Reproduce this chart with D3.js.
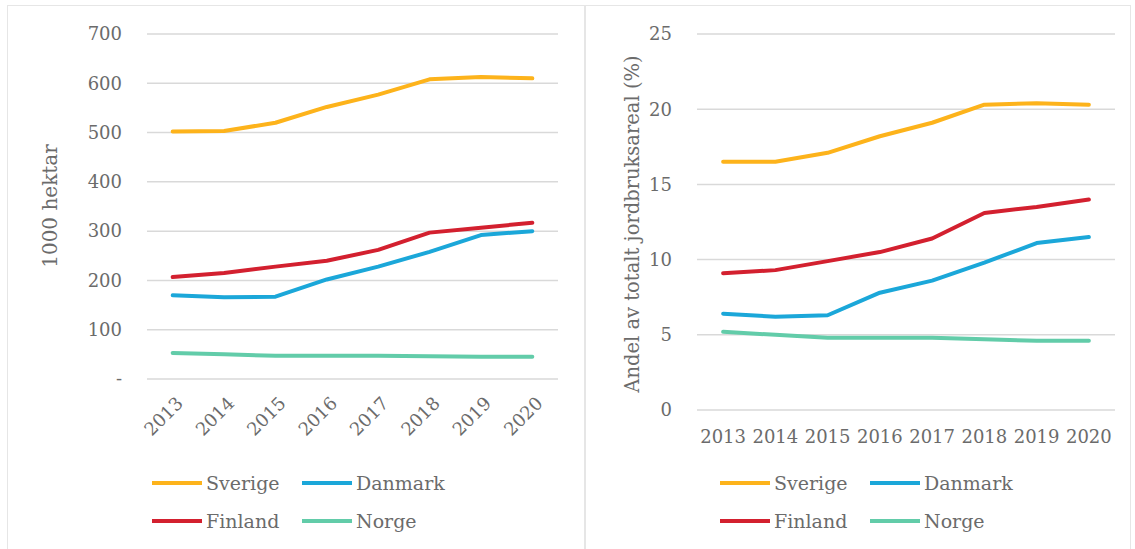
<!DOCTYPE html>
<html>
<head>
    <meta charset="utf-8">
    <script src="https://cdn.jsdelivr.net/npm/d3@7"></script>
    <style type="text/css">
        body { margin: 0; background: #ffffff; }
        svg text { font-family: "DejaVu Serif", Georgia, serif; fill: #6b6b6b; }
    </style>
</head>
<body>
<script type="text/javascript">
    // data
    var years = ["2013", "2014", "2015", "2016", "2017", "2018", "2019", "2020"];
    var countries = ["Sverige", "Danmark", "Finland", "Norge"];
    var colors = ["#fdb31b", "#1ba7d9", "#d3202f", "#62cca9"];

    // 1000 hektar
    var hektarSverige = [502, 503, 520, 552, 577, 608, 613, 610];
    var hektarDanmark = [170, 166, 167, 202, 228, 258, 292, 300];
    var hektarFinland = [207, 215, 228, 240, 262, 297, 307, 317];
    var hektarNorge   = [53, 50, 47, 47, 47, 46, 45, 45];
    var hektarTicks = [0, 100, 200, 300, 400, 500, 600, 700];

    // andel av totalt jordbruksareal (%)
    var andelSverige = [16.5, 16.5, 17.1, 18.2, 19.1, 20.3, 20.4, 20.3];
    var andelDanmark = [6.4, 6.2, 6.3, 7.8, 8.6, 9.8, 11.1, 11.5];
    var andelFinland = [9.1, 9.3, 9.9, 10.5, 11.4, 13.1, 13.5, 14.0];
    var andelNorge   = [5.2, 5.0, 4.8, 4.8, 4.8, 4.7, 4.6, 4.6];
    var andelTicks = [0, 5, 10, 15, 20, 25];

    var svg = d3.select("body").append("svg")
        .attr("width", 1135)
        .attr("height", 549);

    // panel frames
    svg.append("rect").attr("x", 7.5).attr("y", 5.5).attr("width", 577).attr("height", 560)
        .attr("fill", "none").attr("stroke", "#e6e6e6");
    svg.append("rect").attr("x", 585.5).attr("y", 5.5).attr("width", 545).attr("height", 560)
        .attr("fill", "none").attr("stroke", "#e6e6e6");

    function drawChart(opt) {
        var g = svg.append("g");
        var x = d3.scalePoint().domain(years).range([opt.x0, opt.x1]).padding(0.5);
        var y = d3.scaleLinear().domain([0, opt.max]).range([opt.y0, opt.y1]);

        // gridlines
        g.selectAll(".grid").data(opt.ticks).enter().append("line")
            .attr("x1", opt.x0).attr("x2", opt.x1)
            .attr("y1", function(d) { return y(d); })
            .attr("y2", function(d) { return y(d); })
            .attr("stroke", "#d9d9d9").attr("stroke-width", 1.5);

        // y tick labels
        g.selectAll(".ytick").data(opt.ticks).enter().append("text")
            .attr("x", opt.x0 - 25)
            .attr("y", function(d) { return y(d); })
            .attr("dy", "0.35em")
            .attr("text-anchor", "end")
            .style("font-size", "18px")
            .text(opt.tickFormat);

        // x tick labels
        if (opt.rotate) {
            g.selectAll(".xtick").data(years).enter().append("text")
                .attr("transform", function(d) {
                    return "translate(" + (x(d) + 7) + "," + (opt.y0 + 21) + ") rotate(-45)";
                })
                .attr("text-anchor", "end")
                .attr("dy", "0.35em")
                .style("font-size", "18px")
                .text(function(d) { return d; });
        } else {
            g.selectAll(".xtick").data(years).enter().append("text")
                .attr("x", function(d) { return x(d); })
                .attr("y", opt.y0 + 27)
                .attr("dy", "0.35em")
                .attr("text-anchor", "middle")
                .style("font-size", "18px")
                .text(function(d) { return d; });
        }

        // axis title
        g.append("text")
            .attr("transform", "translate(" + opt.titleX + "," + opt.titleY + ") rotate(-90)")
            .attr("text-anchor", "middle")
            .attr("dy", "0.35em")
            .style("font-size", opt.titleSize)
            .text(opt.title);

        // lines
        var line = d3.line()
            .x(function(d, i) { return x(years[i]); })
            .y(function(d) { return y(d); });

        opt.series.forEach(function(s, i) {
            g.append("path")
                .attr("d", line(s))
                .attr("fill", "none")
                .attr("stroke", colors[i])
                .attr("stroke-width", 4)
                .attr("stroke-linejoin", "round")
                .attr("stroke-linecap", "round");
        });

        // legend
        countries.forEach(function(c, i) {
            var lx = opt.legendX + (i % 2) * 150;
            var ly = 483 + Math.floor(i / 2) * 38;
            g.append("line")
                .attr("x1", lx).attr("x2", lx + 50)
                .attr("y1", ly).attr("y2", ly)
                .attr("stroke", colors[i]).attr("stroke-width", 4);
            g.append("text")
                .attr("x", lx + 54).attr("y", ly)
                .attr("dy", "0.35em")
                .style("font-size", "19px")
                .text(c);
        });
    }

    drawChart({
        x0: 147, x1: 558, y0: 379, y1: 34, max: 700,
        ticks: hektarTicks,
        tickFormat: function(d) { return d === 0 ? "-" : d; },
        rotate: true,
        title: "1000 hektar", titleX: 50, titleY: 206, titleSize: "20px",
        series: [hektarSverige, hektarDanmark, hektarFinland, hektarNorge],
        legendX: 152
    });

    drawChart({
        x0: 697, x1: 1115, y0: 410, y1: 34, max: 25,
        ticks: andelTicks,
        tickFormat: function(d) { return d; },
        rotate: false,
        title: "Andel av totalt jordbruksareal (%)", titleX: 632, titleY: 224, titleSize: "19.5px",
        series: [andelSverige, andelDanmark, andelFinland, andelNorge],
        legendX: 720
    });
</script>
</body>
</html>
